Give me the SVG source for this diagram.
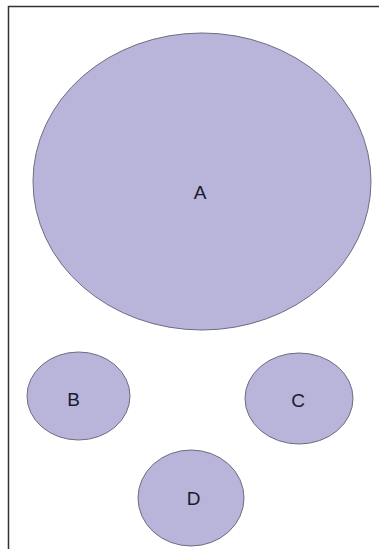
<svg xmlns="http://www.w3.org/2000/svg" width="379" height="549" viewBox="0 0 379 549">
<style>
.n{fill:#b8b4da;stroke:#6e6c80;stroke-width:1}
.t{font-family:"Liberation Sans",Arial,sans-serif;font-size:19px;fill:#1a1a2a;text-anchor:middle}
</style>
<rect width="379" height="549" fill="#ffffff"/>
<path d="M8.5,549 V6.5 H379" fill="none" stroke="#333333" stroke-width="1.5"/>
<g id="connectors"></g>
<g id="A"><ellipse class="n" cx="202" cy="181.5" rx="169" ry="148.5"/><text class="t" x="200" y="199">A</text></g>
<g id="B"><ellipse class="n" cx="78.5" cy="396" rx="51.5" ry="44"/><text class="t" x="73.5" y="406">B</text></g>
<g id="C"><ellipse class="n" cx="299" cy="398.5" rx="54" ry="45.5"/><text class="t" x="298" y="407">C</text></g>
<g id="D"><ellipse class="n" cx="191" cy="498" rx="53" ry="48"/><text class="t" x="193.5" y="505">D</text></g>
</svg>
